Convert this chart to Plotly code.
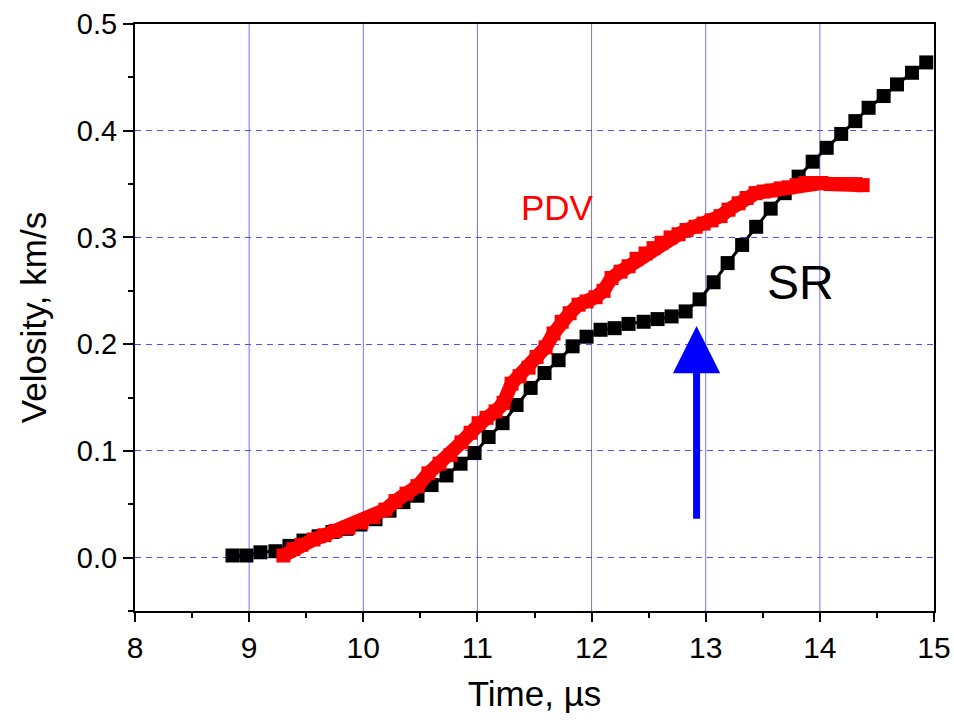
import plotly.graph_objects as go

# SR (streak record) velocity
sr_time = [8.854, 8.976, 9.099, 9.230, 9.353, 9.476, 9.608, 9.730, 9.853, 9.975,
           10.107, 10.230, 10.352, 10.475, 10.598, 10.729, 10.852, 10.975, 11.098, 11.220,
           11.343, 11.466, 11.588, 11.711, 11.834, 11.956, 12.079, 12.202, 12.324, 12.456,
           12.578, 12.701, 12.824, 12.946, 13.069, 13.192, 13.319, 13.442, 13.569, 13.692,
           13.814, 13.937, 14.060, 14.187, 14.311, 14.427, 14.559, 14.676, 14.807, 14.932]
sr_vel = [0.002, 0.002, 0.005, 0.006, 0.011, 0.016, 0.020, 0.024, 0.027, 0.031,
          0.036, 0.044, 0.052, 0.058, 0.068, 0.077, 0.088, 0.098, 0.113, 0.126,
          0.143, 0.159, 0.173, 0.185, 0.198, 0.207, 0.2135, 0.215, 0.219, 0.221,
          0.2235, 0.226, 0.2307, 0.242, 0.258, 0.276, 0.293, 0.310, 0.327, 0.3415,
          0.357, 0.371, 0.384, 0.397, 0.409, 0.4215, 0.4325, 0.4434, 0.4543, 0.464]

# PDV velocity
pdv_time = [9.300, 9.388, 9.458, 9.564, 9.660, 9.756, 9.870, 9.984, 10.089, 10.194,
            10.282, 10.379, 10.475, 10.571, 10.668, 10.764, 10.861, 10.940, 11.010, 11.080,
            11.159, 11.229, 11.299, 11.369, 11.448, 11.518, 11.597, 11.667, 11.738, 11.808,
            11.886, 11.956, 12.035, 12.105, 12.175, 12.254, 12.324, 12.394, 12.473, 12.543,
            12.613, 12.692, 12.762, 12.832, 12.911, 12.981, 13.051, 13.130, 13.200, 13.288,
            13.358, 13.437, 13.507, 13.577, 13.656, 13.726, 13.796, 13.875, 13.945, 14.015,
            14.094, 14.164, 14.234, 14.313, 14.375]
pdv_vel = [0.002, 0.008, 0.012, 0.017, 0.021, 0.025, 0.028, 0.033, 0.038, 0.045,
           0.053, 0.060, 0.067, 0.079, 0.088, 0.096, 0.108, 0.117, 0.126, 0.131,
           0.137, 0.145, 0.163, 0.170, 0.178, 0.188, 0.197, 0.210, 0.221, 0.229,
           0.237, 0.240, 0.244, 0.250, 0.262, 0.268, 0.273, 0.280, 0.285, 0.290,
           0.295, 0.300, 0.303, 0.307, 0.310, 0.313, 0.316, 0.320, 0.326, 0.332,
           0.337, 0.3415, 0.343, 0.344, 0.346, 0.347, 0.349, 0.351, 0.351, 0.351,
           0.350, 0.350, 0.350, 0.350, 0.349]

x_ticks = [8, 9, 10, 11, 12, 13, 14, 15]
y_ticks = [0.0, 0.1, 0.2, 0.3, 0.4, 0.5]
y_labels = ["0.0", "0.1", "0.2", "0.3", "0.4", "0.5"]

arrow_t = 12.92
arrow_from = 0.035
arrow_to = 0.217

font_family = "Arial, Liberation Sans, sans-serif"

fig = go.Figure()

# vertical grid: solid light blue lines at the inner x ticks
for t in x_ticks[1:-1]:
    fig.add_vline(x=t, line=dict(color="#7070ff", width=1), layer="below")

fig.add_trace(go.Scatter(x=sr_time, y=sr_vel, mode="lines+markers", name="SR",
                         line=dict(color="black", width=3),
                         marker=dict(symbol="square", size=14, color="black")))

fig.add_trace(go.Scatter(x=pdv_time, y=pdv_vel, mode="lines+markers", name="PDV",
                         line=dict(color="#ff0000", width=14),
                         marker=dict(symbol="square", size=14, color="#ff0000")))

fig.add_annotation(x=11.7, y=0.328, text="PDV", showarrow=False,
                   font=dict(family=font_family, size=35, color="#ff0000"))
fig.add_annotation(x=13.83, y=0.2575, text="SR", showarrow=False,
                   font=dict(family=font_family, size=48, color="black"))
fig.add_annotation(x=arrow_t, y=arrow_to, ax=arrow_t, ay=arrow_from,
                   xref="x", yref="y", axref="x", ayref="y",
                   text="", showarrow=True, arrowhead=2, arrowsize=1.35,
                   arrowwidth=7, arrowcolor="#0000ff")

fig.update_xaxes(range=[8, 15], tickvals=x_ticks, automargin=False,
                 showline=True, linecolor="black", linewidth=2, mirror=True,
                 ticks="outside", ticklen=9, tickwidth=2, tickcolor="black",
                 minor=dict(dtick=0.5, ticks="outside", ticklen=5, tickwidth=2,
                            tickcolor="black", showgrid=False),
                 showgrid=False, zeroline=False, ticklabelstandoff=0,
                 tickfont=dict(family=font_family, size=30, color="black"),
                 title=dict(text="Time, µs", standoff=18,
                            font=dict(family=font_family, size=35, color="black")))

fig.update_yaxes(range=[-0.05, 0.5], tickvals=y_ticks, ticktext=y_labels, automargin=False,
                 showline=True, linecolor="black", linewidth=2, mirror=True,
                 ticks="outside", ticklen=10, tickwidth=2, tickcolor="black",
                 minor=dict(dtick=0.05, tick0=0, ticks="outside", ticklen=5,
                            tickwidth=2, tickcolor="black", showgrid=False),
                 showgrid=True, gridcolor="#4f4fff", gridwidth=1, griddash="6px,5px",
                 zeroline=False, ticklabelstandoff=0,
                 tickfont=dict(family=font_family, size=29, color="black"),
                 title=dict(text="Velosity, km/s", standoff=20,
                            font=dict(family=font_family, size=35, color="black")))

fig.update_layout(width=954, height=720,
                  margin=dict(l=135, r=20, t=24, b=109),
                  paper_bgcolor="white", plot_bgcolor="white",
                  showlegend=False)

# drop the page's default 8 px body margin so the figure fills the window
fig.write_html("out.html", config={"displayModeBar": False},
               post_script="document.body.style.margin='0';document.body.style.overflow='hidden';")
